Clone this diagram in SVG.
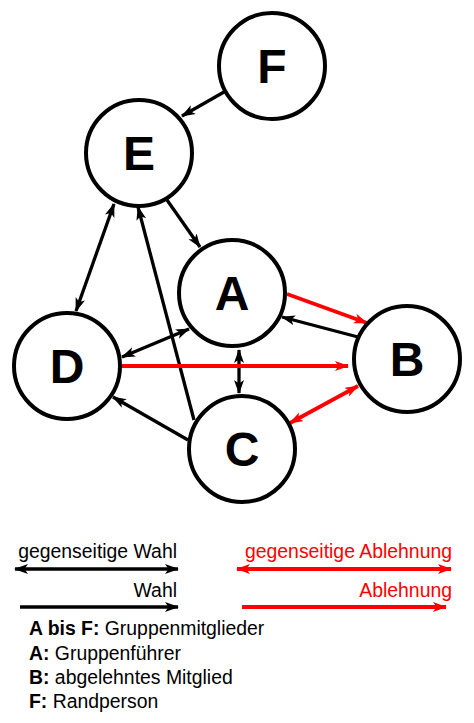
<svg xmlns="http://www.w3.org/2000/svg" width="474" height="723" viewBox="0 0 474 723">
<style>
.node{fill:#fff;stroke:#000;stroke-width:4}
.lbl{font-family:"Liberation Sans",Arial,sans-serif;font-weight:bold;font-size:48px;text-anchor:middle;fill:#000}
.k{stroke:#000;stroke-width:3.3;fill:none}
.r{stroke:#f00;stroke-width:3.8;fill:none}
.t{font-family:"Liberation Sans",Arial,sans-serif;font-size:19.4px}
</style>
<defs>
<marker id="ak" markerUnits="userSpaceOnUse" markerWidth="15" markerHeight="11" refX="13" refY="5" orient="auto-start-reverse" viewBox="0 0 15 11">
<path d="M0,0 L14,5 L0,10 L3.5,5 z" fill="#000"/>
</marker>
<marker id="ar" markerUnits="userSpaceOnUse" markerWidth="15" markerHeight="11" refX="13" refY="5" orient="auto-start-reverse" viewBox="0 0 15 11">
<path d="M0,0 L14,5 L0,10 L3.5,5 z" fill="#f00"/>
</marker>
</defs>
<rect width="474" height="723" fill="#fff"/>
<g id="connectors">
<line class="k" x1="224" y1="92" x2="182" y2="116" marker-end="url(#ak)"/>
<line class="k" x1="167" y1="200" x2="200" y2="247" marker-end="url(#ak)"/>
<line class="k" x1="76" y1="311" x2="114" y2="204" marker-start="url(#ak)" marker-end="url(#ak)"/>
<line class="k" x1="194" y1="420" x2="138" y2="207" marker-end="url(#ak)"/>
<line class="k" x1="122" y1="357" x2="189" y2="329" marker-start="url(#ak)" marker-end="url(#ak)"/>
<line class="k" x1="358" y1="337" x2="282" y2="317" marker-end="url(#ak)"/>
<line class="k" x1="239" y1="350" x2="239" y2="393" marker-start="url(#ak)" marker-end="url(#ak)"/>
<line class="k" x1="188" y1="440" x2="113" y2="397" marker-end="url(#ak)"/>
<line class="r" x1="287" y1="294" x2="367" y2="323" marker-end="url(#ar)"/>
<line class="r" x1="122" y1="366" x2="348" y2="366" marker-end="url(#ar)"/>
<line class="r" x1="290" y1="423" x2="358" y2="386" marker-start="url(#ar)" marker-end="url(#ar)"/>
</g>
<g id="F"><circle class="node" cx="272" cy="66" r="53"/><text class="lbl" x="272" y="83">F</text></g>
<g id="E"><circle class="node" cx="139" cy="153" r="53"/><text class="lbl" x="139" y="170">E</text></g>
<g id="A"><circle class="node" cx="232" cy="293" r="53"/><text class="lbl" x="232" y="310">A</text></g>
<g id="B"><circle class="node" cx="407" cy="359" r="53"/><text class="lbl" x="407" y="376">B</text></g>
<g id="D"><circle class="node" cx="67" cy="366" r="53"/><text class="lbl" x="67" y="383">D</text></g>
<g id="C"><circle class="node" cx="242" cy="449" r="53"/><text class="lbl" x="242" y="466">C</text></g>
<g id="legend">
<text class="t" x="177" y="558" text-anchor="end">gegenseitige Wahl</text>
<line class="k" x1="15" y1="569" x2="178" y2="569" marker-start="url(#ak)" marker-end="url(#ak)"/>
<text class="t" x="177" y="597" text-anchor="end">Wahl</text>
<line class="k" x1="20" y1="607" x2="178" y2="607" marker-end="url(#ak)"/>
<text class="t" x="452" y="558" text-anchor="end" fill="#f00">gegenseitige Ablehnung</text>
<line class="r" x1="237" y1="569" x2="451" y2="569" marker-start="url(#ar)" marker-end="url(#ar)"/>
<text class="t" x="452" y="597" text-anchor="end" fill="#f00">Ablehnung</text>
<line class="r" x1="242" y1="607" x2="446" y2="607" marker-end="url(#ar)"/>
<text class="t" x="29" y="635"><tspan font-weight="bold">A bis F:</tspan> Gruppenmitglieder</text>
<text class="t" x="29" y="660"><tspan font-weight="bold">A:</tspan> Gruppenführer</text>
<text class="t" x="29" y="684"><tspan font-weight="bold">B:</tspan> abgelehntes Mitglied</text>
<text class="t" x="29" y="708"><tspan font-weight="bold">F:</tspan> Randperson</text>
</g>
</svg>
